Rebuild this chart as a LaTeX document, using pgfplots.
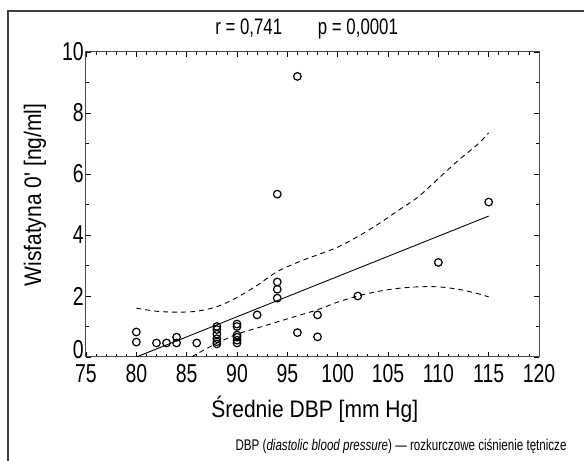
\documentclass[border=0pt]{standalone}
\usepackage{fontspec}
\setmainfont{Liberation Sans}[FakeStretch=0.75]
\newfontfamily\lblfont{Liberation Sans}[FakeStretch=0.88]
\usepackage{pgfplots}
\pgfplotsset{compat=1.18}
\begin{document}
\begin{tikzpicture}[x=1bp,y=1bp]
\useasboundingbox (-86,-104) rectangle (498,357);
\draw[black!75, line width=1.2bp] (-78,-110) -- (-78,346) -- (510,346);
\begin{axis}[
  at={(0,0)}, anchor=south west,
  width=453bp, height=305bp, scale only axis,
  xmin=75, xmax=120, ymin=0, ymax=10,
  xtick={75,80,...,120}, ytick={0,2,...,10},
  yticklabels={\raisebox{-2bp}[0pt][0pt]{0},2,4,6,8,10},
  minor x tick num=4, minor y tick num=1,
  tick align=inside, major tick length=5bp, minor tick length=3bp,
  axis line style={black!70, line width=1bp},
  tick style={black, line width=0.8bp},
  ticklabel style={font=\fontsize{26}{26}\selectfont},
  xticklabel style={inner sep=1bp, yshift=-6bp},
  yticklabel style={inner sep=1bp, xshift=-1bp},
  /pgf/number format/assume math mode=true,
  xlabel={Średnie DBP [mm Hg]}, ylabel={Wisfatyna 0' [ng/ml]},
  label style={font=\lblfont\fontsize{24}{24}\selectfont},
  xlabel style={at={(axis description cs:0.505,-0.17)}, anchor=center},
  ylabel style={at={(axis description cs:-0.1126,0.531)}, anchor=center},
  title={r = 0,741\hspace{1.6em}p = 0,0001},
  title style={font=\fontsize{22.5}{22.5}\selectfont, at={(axis description cs:0.487,1.055)}, anchor=center},
]
\addplot[only marks, mark=o, mark size=3.8bp, mark options={line width=1.2bp}] coordinates {
  (80,0.82) (80,0.49) (82,0.46) (83,0.46) (84,0.65) (84,0.46) (86,0.46)
  (88,1.0) (88,0.9) (88,0.75) (88,0.6) (88,0.5) (88,0.43)
  (90,1.08) (90,1.0) (90,0.72) (90,0.65) (90,0.55) (90,0.46)
  (92,1.38) (94,2.46) (94,2.22) (94,1.93) (94,5.34)
  (96,9.2) (96,0.8) (98,1.38) (98,0.66) (102,2.0) (110,3.1) (115,5.08)
};
\addplot[black, line width=0.9bp] coordinates {(80,0) (115,4.62)};
\addplot[black, line width=0.9bp, dash pattern=on 5bp off 4bp, smooth] coordinates {
  (80,1.6) (82,1.5) (84,1.47) (86,1.5) (88,1.65) (90,1.95) (92,2.35) (94,2.8)
  (96,3.1) (98,3.35) (100,3.6) (102,3.95) (104,4.35) (106,4.8) (108,5.25)
  (110,5.85) (112,6.45) (114,7.0) (115,7.35)
};
\addplot[black, line width=0.9bp, dash pattern=on 5bp off 4bp, smooth] coordinates {
  (85.5,0) (86,0.1) (88,0.45) (90,0.75) (92,0.95) (94,1.15) (96,1.35) (98,1.55)
  (100,1.8) (102,2.0) (104,2.15) (106,2.25) (108,2.3) (110,2.3) (112,2.22)
  (114,2.07) (115,1.97)
};
\end{axis}
\node[anchor=east, font=\fontsize{15.5}{15.5}\selectfont] at (484,-89)
  {DBP (\textit{diastolic blood pressure}) — rozkurczowe ciśnienie tętnicze};
\end{tikzpicture}
\end{document}
